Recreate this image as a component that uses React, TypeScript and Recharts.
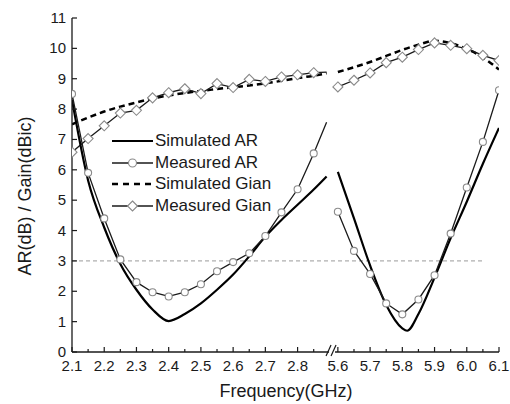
import React from 'react'
import { LineChart, Line, XAxis, YAxis, ReferenceLine } from 'recharts'

// Frequencies (GHz) on both sides of the axis break
const FREQ_LOW = [2.1, 2.15, 2.2, 2.25, 2.3, 2.35, 2.4, 2.45, 2.5, 2.55, 2.6, 2.65, 2.7, 2.75, 2.8, 2.85, 2.89]
const FREQ_HIGH = [5.6, 5.65, 5.7, 5.75, 5.8, 5.85, 5.9, 5.95, 6.0, 6.05, 6.1]
const SIM_AR_FREQ_HIGH = [5.6, 5.65, 5.7, 5.75, 5.8, 5.815, 5.85, 5.9, 5.95, 6.0, 6.05, 6.1]

// Axial ratio (dB)
const simArLow = [8.3, 5.65, 4.1, 2.9, 2.05, 1.4, 1.02, 1.25, 1.6, 2.05, 2.55, 3.15, 3.8, 4.35, 4.85, 5.35, 5.78]
const simArHigh = [5.93, 4.4, 2.85, 1.55, 0.78, 0.7, 1.25, 2.45, 3.75, 4.95, 6.2, 7.38]
const measArLow = [8.5, 5.9, 4.4, 3.05, 2.3, 1.97, 1.83, 1.97, 2.23, 2.66, 2.96, 3.25, 3.82, 4.6, 5.36, 6.54, 7.57]
const measArHigh = [4.62, 3.33, 2.57, 1.6, 1.24, 1.73, 2.53, 3.9, 5.42, 6.92, 8.62]

// Gain (dBic)
const simGainLow = [7.5, 7.72, 7.92, 8.08, 8.22, 8.35, 8.45, 8.53, 8.6, 8.66, 8.72, 8.78, 8.85, 8.93, 9.02, 9.1, 9.18]
const simGainHigh = [9.22, 9.38, 9.55, 9.75, 9.95, 10.12, 10.25, 10.17, 9.98, 9.7, 9.3]
const measGainLow = [6.58, 7.03, 7.45, 7.87, 7.96, 8.37, 8.54, 8.67, 8.51, 8.84, 8.71, 8.98, 8.91, 9.06, 9.13, 9.2, 9.22]
const measGainHigh = [8.73, 8.95, 9.19, 9.53, 9.71, 9.96, 10.18, 10.1, 9.99, 9.77, 9.6]

const AR_LIMIT = 3
const AR_LIMIT_END = 6.05

const Y_TICKS = [0, 1, 2, 3, 4, 5, 6, 7, 8, 9, 10, 11]
const X_MAJOR_LOW = [2.1, 2.2, 2.3, 2.4, 2.5, 2.6, 2.7, 2.8]
const X_MINOR_LOW = [2.15, 2.25, 2.35, 2.45, 2.55, 2.65, 2.75, 2.85]
const X_MAJOR_HIGH = [5.6, 5.7, 5.8, 5.9, 6.0, 6.1]
const X_MINOR_HIGH = [5.65, 5.75, 5.85, 5.95, 6.05]

// lines are cut at the break, no marker there
const CUT = 2.89
// 5.6 GHz sits here on the compressed axis
const HIGH_START = 2.925
const BREAK_AT = 2.91

const toAxis = (f: number) => (f < 4 ? f : f - 5.6 + HIGH_START)

type Pt = { x: number; y: number | null; mark: boolean }

function series(fLow: number[], vLow: number[], fHigh: number[], vHigh: number[]): Pt[] {
  const pts = (fs: number[], vs: number[]) =>
    fs.map((f, i) => ({ x: toAxis(f), y: vs[i], mark: f !== CUT }))
  return [...pts(fLow, vLow), { x: BREAK_AT, y: null, mark: false }, ...pts(fHigh, vHigh)]
}

const simAr = series(FREQ_LOW, simArLow, SIM_AR_FREQ_HIGH, simArHigh)
const measAr = series(FREQ_LOW, measArLow, FREQ_HIGH, measArHigh)
const simGain = series(FREQ_LOW, simGainLow, FREQ_HIGH, simGainHigh)
const measGain = series(FREQ_LOW, measGainLow, FREQ_HIGH, measGainHigh)

type TickDef = { u: number; label: string; kind: 'major' | 'minor' | 'break' }
const X_TICKS: TickDef[] = [
  ...X_MAJOR_LOW.map((f) => ({ u: f, label: f.toFixed(1), kind: 'major' as const })),
  ...X_MINOR_LOW.map((f) => ({ u: f, label: '', kind: 'minor' as const })),
  { u: BREAK_AT, label: '', kind: 'break' as const },
  ...X_MAJOR_HIGH.map((f) => ({ u: toAxis(f), label: f.toFixed(1), kind: 'major' as const })),
  ...X_MINOR_HIGH.map((f) => ({ u: toAxis(f), label: '', kind: 'minor' as const })),
].sort((a, b) => a.u - b.u)

const FONT = '"Liberation Sans", Arial, sans-serif'
const INK = '#1a1a1a'
const MARKER = '#8a8a8a'

function XTick(props: any) {
  const { x, y, payload } = props
  const def = X_TICKS.find((t) => Math.abs(t.u - payload.value) < 1e-9)
  if (!def) return <g />
  if (def.kind === 'break') {
    return (
      <g>
        <rect x={x - 4} y={y - 2} width={6} height={4} fill="#fff" />
        <line x1={x - 7} y1={y + 4} x2={x - 2} y2={y - 7} stroke={INK} strokeWidth={1.2} />
        <line x1={x - 2} y1={y + 4} x2={x + 3} y2={y - 7} stroke={INK} strokeWidth={1.2} />
      </g>
    )
  }
  const len = def.kind === 'major' ? 5 : 3
  return (
    <g>
      <line x1={x} y1={y} x2={x} y2={y - len} stroke={INK} strokeWidth={1.2} />
      {def.label && (
        <text x={x} y={y + 19} textAnchor="middle" fontSize={15} fill={INK} fontFamily={FONT}>
          {def.label}
        </text>
      )}
    </g>
  )
}

function YTick(props: any) {
  const { x, y, payload } = props
  return (
    <g>
      <line x1={x + 6} y1={y} x2={x + 11} y2={y} stroke={INK} strokeWidth={1.2} />
      <text x={x} y={y + 5} textAnchor="end" fontSize={15} fill={INK} fontFamily={FONT}>
        {payload.value}
      </text>
    </g>
  )
}

function CircleDot(props: any) {
  const { cx, cy, payload, index } = props
  if (!payload || payload.y == null || !payload.mark) return <g key={`c-${index}`} />
  return <circle key={`c-${index}`} cx={cx} cy={cy} r={3.5} fill="#fff" stroke={MARKER} strokeWidth={1.1} />
}

function DiamondDot(props: any) {
  const { cx, cy, payload, index } = props
  if (!payload || payload.y == null || !payload.mark) return <g key={`d-${index}`} />
  const s = 5
  return (
    <polygon
      key={`d-${index}`}
      points={`${cx},${cy - s} ${cx + s},${cy} ${cx},${cy + s} ${cx - s},${cy}`}
      fill="#fff"
      stroke={MARKER}
      strokeWidth={1.1}
    />
  )
}

function YTitle() {
  return (
    <text
      x={25}
      y={196}
      transform="rotate(-90 25 196)"
      textAnchor="middle"
      dominantBaseline="central"
      fontSize={18}
      fill={INK}
      fontFamily={FONT}
    >
      AR(dB) / Gain(dBic)
    </text>
  )
}

function XTitle() {
  return (
    <text x={286} y={397} textAnchor="middle" fontSize={18} fill={INK} fontFamily={FONT}>
      Frequency(GHz)
    </text>
  )
}

const LEGEND = [
  { name: 'Simulated AR', kind: 'solid' },
  { name: 'Measured AR', kind: 'circle' },
  { name: 'Simulated Gian', kind: 'dash' },
  { name: 'Measured Gian', kind: 'diamond' },
]

function LegendSymbol({ kind }: { kind: string }) {
  return (
    <svg width={41} height={14}>
      {kind === 'solid' && <line x1={0} y1={7} x2={41} y2={7} stroke="#000" strokeWidth={2.2} />}
      {kind === 'dash' && (
        <line x1={0} y1={7} x2={41} y2={7} stroke="#000" strokeWidth={2.5} strokeDasharray="6 5" />
      )}
      {kind === 'circle' && (
        <>
          <line x1={0} y1={7} x2={41} y2={7} stroke={INK} strokeWidth={1.4} />
          <circle cx={20.5} cy={7} r={4} fill="#fff" stroke={MARKER} strokeWidth={1.1} />
        </>
      )}
      {kind === 'diamond' && (
        <>
          <line x1={0} y1={7} x2={41} y2={7} stroke={INK} strokeWidth={1.4} />
          <polygon points="20.5,2 25.5,7 20.5,12 15.5,7" fill="#fff" stroke={MARKER} strokeWidth={1.1} />
        </>
      )}
    </svg>
  )
}

export default function App() {
  return (
    <div style={{ position: 'absolute', left: 0, top: 0, width: 510, height: 404, background: '#fff', fontFamily: FONT }}>
      <LineChart width={510} height={404} margin={{ top: 18, right: 11, bottom: 0, left: 0 }}>
        <XAxis
          type="number"
          dataKey="x"
          domain={[2.1, toAxis(6.1)]}
          ticks={X_TICKS.map((t) => t.u)}
          interval={0}
          tick={<XTick />}
          tickLine={false}
          tickSize={0}
          tickMargin={0}
          height={52}
          axisLine={{ stroke: INK, strokeWidth: 1.3 }}
          allowDataOverflow
          label={<XTitle />}
        />
        <YAxis
          type="number"
          domain={[0, 11]}
          ticks={Y_TICKS}
          interval={0}
          tick={<YTick />}
          tickLine={false}
          tickSize={0}
          tickMargin={6}
          width={72}
          axisLine={{ stroke: INK, strokeWidth: 1.3 }}
          label={<YTitle />}
        />
        <ReferenceLine
          segment={[
            { x: 2.1, y: AR_LIMIT },
            { x: toAxis(AR_LIMIT_END), y: AR_LIMIT },
          ]}
          stroke="#9a9a9a"
          strokeWidth={1}
          strokeDasharray="4 3"
        />
        <Line
          data={simGain}
          dataKey="y"
          type="monotone"
          stroke="#000"
          strokeWidth={2.5}
          strokeDasharray="6 4"
          dot={false}
          isAnimationActive={false}
        />
        <Line
          data={measGain}
          dataKey="y"
          type="linear"
          stroke={INK}
          strokeWidth={1.3}
          dot={<DiamondDot />}
          isAnimationActive={false}
        />
        <Line
          data={simAr}
          dataKey="y"
          type="monotone"
          stroke="#000"
          strokeWidth={2.2}
          dot={false}
          isAnimationActive={false}
        />
        <Line
          data={measAr}
          dataKey="y"
          type="linear"
          stroke={INK}
          strokeWidth={1.3}
          dot={<CircleDot />}
          isAnimationActive={false}
        />
      </LineChart>
      <div style={{ position: 'absolute', left: 112, top: 130, fontSize: 17, color: INK }}>
        {LEGEND.map((item) => (
          <div key={item.name} style={{ display: 'flex', alignItems: 'center', height: 21.7 }}>
            <LegendSymbol kind={item.kind} />
            <span style={{ marginLeft: 2, whiteSpace: 'nowrap' }}>{item.name}</span>
          </div>
        ))}
      </div>
    </div>
  )
}
